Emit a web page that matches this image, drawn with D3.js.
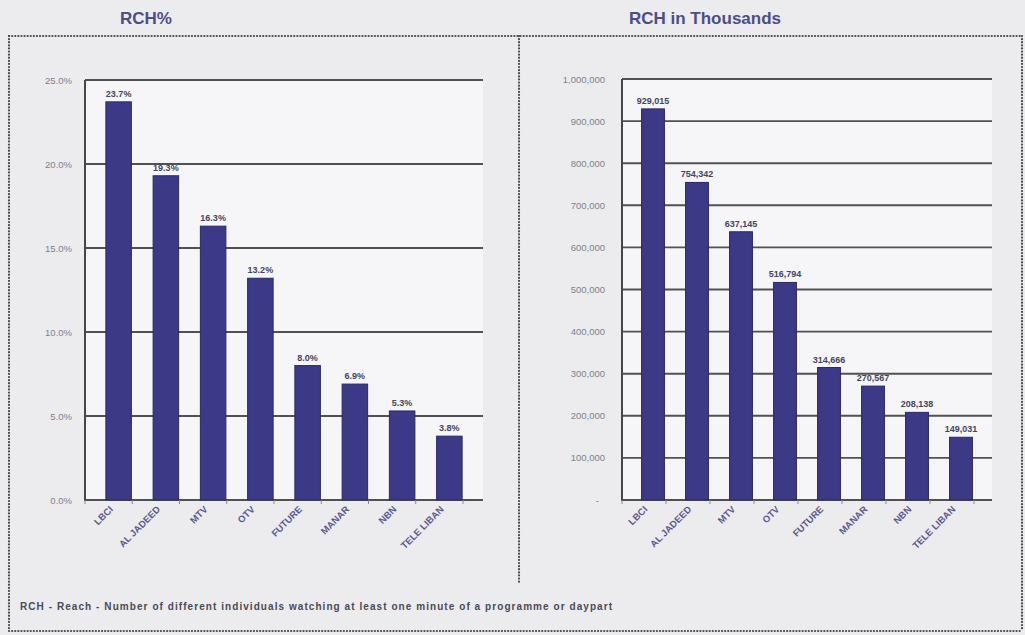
<!DOCTYPE html>
<html><head><meta charset="utf-8">
<script src="https://cdn.jsdelivr.net/npm/d3@7"></script>
<style>
html,body{margin:0;padding:0;background:#ececef;}
svg{display:block;font-family:"Liberation Sans",Arial,sans-serif;}
</style></head>
<body>
<svg id="c" width="1025" height="635"></svg>
<script>
const categories = ["LBCI","AL JADEED","MTV","OTV","FUTURE","MANAR","NBN","TELE LIBAN"];
const rchPct = [23.7, 19.3, 16.3, 13.2, 8.0, 6.9, 5.3, 3.8];
const rchThousands = [929015, 754342, 637145, 516794, 314666, 270567, 208138, 149031];
const pctTicks = [0, 5, 10, 15, 20, 25];
const thTicks = [0,100000,200000,300000,400000,500000,600000,700000,800000,900000,1000000];
const titles = ["RCH%", "RCH in Thousands"];
const footnote = "RCH - Reach - Number of different individuals watching at least one minute of a programme or daypart";

const svg = d3.select("#c");
svg.append("rect").attr("width",1025).attr("height",635).attr("fill","#ececef");

const dot = {stroke:"#4a4a4e", "stroke-width":2.2, "stroke-dasharray":"0.1,3", "stroke-linecap":"round", fill:"none"};
function dline(x1,y1,x2,y2){const l=svg.append("line").attr("x1",x1).attr("y1",y1).attr("x2",x2).attr("y2",y2);Object.entries(dot).forEach(([k,v])=>l.attr(k,v));}
dline(9,36,1022,36);
dline(9,36,9,631);
dline(9,631,1022,631);
dline(1022,36,1022,631);
dline(519,36,519,582);

const barColor = "#3c3987";
const titleColor = "#4b4e88";

function panel(cfg){
  const g = svg.append("g");
  g.append("rect").attr("x",cfg.axisX).attr("y",cfg.top).attr("width",cfg.gridEnd-cfg.axisX).attr("height",cfg.bottom-cfg.top).attr("fill","#f6f6f8");
  const y = d3.scaleLinear().domain(cfg.domain).range([cfg.bottom, cfg.top]);
  const x = d3.scaleBand().domain(categories).range(cfg.xRange).paddingInner(cfg.pad).paddingOuter(cfg.pad/2);
  g.selectAll(".grid").data(cfg.ticks).join("line")
    .attr("x1",cfg.axisX).attr("x2",cfg.gridEnd)
    .attr("y1",d=>y(d)).attr("y2",d=>y(d))
    .attr("stroke","#505055").attr("stroke-width",1.9);
  const yAxis = d3.axisLeft(y).tickValues(cfg.ticks).tickSize(0).tickPadding(0).tickFormat(cfg.fmt);
  const ya = g.append("g").attr("transform",`translate(${cfg.labelX},0)`).call(yAxis);
  ya.select(".domain").remove();
  ya.selectAll("text").attr("fill","#80808a").attr("font-size",cfg.yFont).attr("font-family","Liberation Sans, Arial");
  g.append("line").attr("x1",cfg.axisX).attr("x2",cfg.axisX).attr("y1",cfg.top).attr("y2",cfg.bottom+1)
    .attr("stroke","#45454b").attr("stroke-width",2);
  const step = x.step();
  const bounds = d3.range(categories.length+1).map(i=>cfg.tickStart + i*step);
  g.selectAll(".xt").data(bounds).join("line")
    .attr("x1",d=>d).attr("x2",d=>d).attr("y1",cfg.bottom).attr("y2",cfg.bottom+4)
    .attr("stroke","#888").attr("stroke-width",1);
  g.selectAll(".bar").data(cfg.values).join("rect")
    .attr("x",(d,i)=>x(categories[i])).attr("width",x.bandwidth())
    .attr("y",d=>y(d)).attr("height",d=>cfg.bottom - y(d))
    .attr("fill",barColor).attr("stroke","#2b2965").attr("stroke-width",1);
  g.selectAll(".vl").data(cfg.values).join("text")
    .attr("x",(d,i)=>x(categories[i])+x.bandwidth()/2)
    .attr("y",d=>y(d)-5)
    .attr("text-anchor","middle").attr("font-size",cfg.vFont).attr("font-weight","bold")
    .attr("fill","#454560").text(cfg.vfmt);
  g.selectAll(".xl").data(categories).join("text")
    .attr("transform",d=>`translate(${x(d)+x.bandwidth()/2-5},${cfg.bottom+10}) rotate(-45)`)
    .attr("text-anchor","end").attr("font-size",9.5).attr("font-weight","bold")
    .attr("fill","#5a5a92").text(d=>d);
  svg.append("text").attr("x",cfg.titleX).attr("y",24).attr("text-anchor","middle")
    .attr("font-size",17).attr("font-weight","bold").attr("fill",titleColor).text(cfg.title);
}

panel({
  title: titles[0], titleX: 146,
  values: rchPct, domain:[0,25], ticks: pctTicks,
  fmt: d=>d3.format(".1f")(d)+"%",
  vfmt: d=>d3.format(".1f")(d)+"%",
  top:80, bottom:500, axisX:85, gridEnd:483, labelX:72,
  xRange:[95,473], pad:0.46, tickStart:85, yFont:9.5, vFont:9
});
panel({
  title: titles[1], titleX: 705,
  values: rchThousands, domain:[0,1000000], ticks: thTicks,
  fmt: d=> d===0 ? "-" : d3.format(",")(d),
  vfmt: d=>d3.format(",")(d),
  top:79, bottom:500, axisX:622, gridEnd:992, labelX:605,
  xRange:[631,983], pad:0.48, tickStart:622, yFont:9.5, vFont:9
});
svg.selectAll("text").filter(function(){return d3.select(this).text()==="-";}).attr("x",-6);

svg.append("text").attr("x",20).attr("y",610).attr("font-size",10).attr("font-weight","bold")
  .attr("textLength",592).attr("lengthAdjust","spacing")
  .attr("fill","#4a4a58").text(footnote);
</script>
</body></html>
